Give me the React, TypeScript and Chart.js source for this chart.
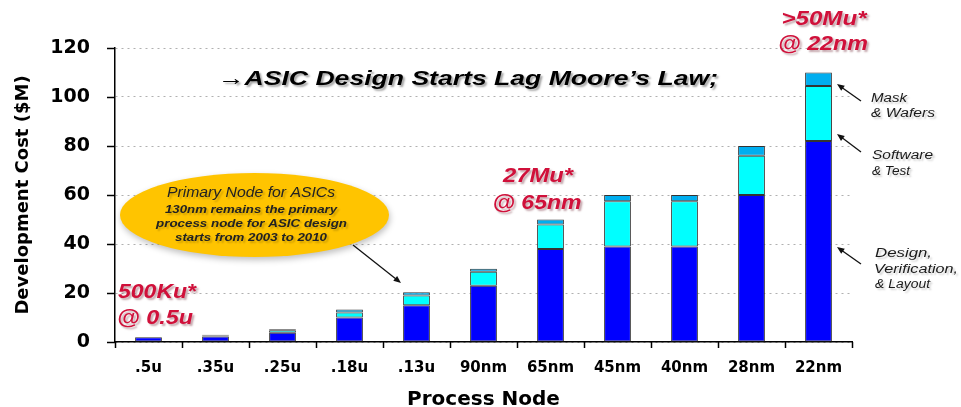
import React, { useEffect, useRef } from 'react';
import { Chart, registerables } from 'chart.js';

Chart.register(...registerables);

// ---- Data ----
const categories = ['.5u', '.35u', '.25u', '.18u', '.13u', '90nm', '65nm', '45nm', '40nm', '28nm', '22nm'];
const designCost = [1.9, 2.2, 3.8, 10, 15, 23, 38, 39, 39, 60, 82];
const softwareCost = [0, 0.5, 1.0, 2, 4, 5.7, 10, 18.5, 18.5, 16, 22.5];
const maskCost = [0, 0.3, 0.4, 1.3, 1.3, 1.2, 2, 2.5, 2.5, 4, 5.5];
const yTickValues = [0, 20, 40, 60, 80, 100, 120];

const seriesNames = ['Design, Verification, & Layout', 'Software & Test', 'Mask & Wafers'];
const headline = '\u2192ASIC Design Starts Lag Moore\u2019s Law;';
const ellipseLines = ['Primary Node for ASICs', '130nm remains the primary', 'process node for ASIC design', 'starts from 2003 to 2010'];

const SANS = '"Liberation Sans", Arial, sans-serif';
const AXIS_FONT = '"DejaVu Sans", sans-serif';
const RED = '#D0103A';

function fitText(
  ctx: CanvasRenderingContext2D,
  text: string,
  x: number,
  y: number,
  font: string,
  width: number,
  align: CanvasTextAlign,
  color: string,
  shadow?: string
) {
  ctx.save();
  ctx.font = font;
  const w = ctx.measureText(text).width;
  const sx = width / w;
  ctx.translate(x, y);
  ctx.scale(sx, 1);
  ctx.textAlign = align;
  ctx.textBaseline = 'alphabetic';
  if (shadow) {
    ctx.shadowColor = shadow;
    ctx.shadowOffsetX = 2;
    ctx.shadowOffsetY = 2;
    ctx.shadowBlur = 2;
  }
  ctx.fillStyle = color;
  ctx.fillText(text, 0, 0);
  ctx.restore();
}

function arrow(ctx: CanvasRenderingContext2D, x1: number, y1: number, x2: number, y2: number, head = 7) {
  ctx.save();
  ctx.strokeStyle = '#111';
  ctx.fillStyle = '#111';
  ctx.lineWidth = 1.3;
  const ang = Math.atan2(y2 - y1, x2 - x1);
  ctx.beginPath();
  ctx.moveTo(x1, y1);
  ctx.lineTo(x2 - Math.cos(ang) * head * 0.8, y2 - Math.sin(ang) * head * 0.8);
  ctx.stroke();
  ctx.beginPath();
  ctx.moveTo(x2, y2);
  ctx.lineTo(x2 - head * Math.cos(ang - 0.4), y2 - head * Math.sin(ang - 0.4));
  ctx.lineTo(x2 - head * Math.cos(ang + 0.4), y2 - head * Math.sin(ang + 0.4));
  ctx.closePath();
  ctx.fill();
  ctx.restore();
}

const decorPlugin = {
  id: 'decor',
  afterDraw(chart: any) {
    const ctx: CanvasRenderingContext2D = chart.ctx;
    const xs = chart.scales.x;
    const ys = chart.scales.y;
    const area = chart.chartArea;

    // tick marks
    ctx.save();
    ctx.strokeStyle = '#000';
    ctx.lineWidth = 1.5;
    ys.ticks.forEach((t: any) => {
      const py = Math.round(ys.getPixelForValue(t.value)) + 0.5;
      ctx.beginPath();
      ctx.moveTo(area.left - 8, py);
      ctx.lineTo(area.left, py);
      ctx.stroke();
    });
    for (let i = 0; i <= categories.length; i++) {
      const px = Math.round(xs.getPixelForValue(i - 0.5)) + 0.5;
      ctx.beginPath();
      ctx.moveTo(px, area.bottom);
      ctx.lineTo(px, area.bottom + 6);
      ctx.stroke();
    }
    ctx.restore();

    // headline
    fitText(ctx, headline, 218, 85, `italic bold 21px ${SANS}`, 500, 'left', '#000', 'rgba(0,0,0,0.35)');

    // red callouts
    const redFont = `italic bold 21px ${SANS}`;
    const redShadow = 'rgba(90,0,20,0.35)';
    fitText(ctx, '500Ku*', 157, 298, redFont, 78, 'center', RED, redShadow);
    fitText(ctx, '@ 0.5u', 155, 324, redFont, 76, 'center', RED, redShadow);
    fitText(ctx, '27Mu*', 538, 182, redFont, 70, 'center', RED, redShadow);
    fitText(ctx, '@ 65nm', 537, 209, redFont, 89, 'center', RED, redShadow);
    fitText(ctx, '>50Mu*', 824, 25, redFont, 85, 'center', RED, redShadow);
    fitText(ctx, '@ 22nm', 823, 50, redFont, 90, 'center', RED, redShadow);

    // ellipse
    ctx.save();
    ctx.shadowColor = 'rgba(0,0,0,0.25)';
    ctx.shadowBlur = 6;
    ctx.shadowOffsetX = 1;
    ctx.shadowOffsetY = 3;
    ctx.fillStyle = '#FFC400';
    ctx.beginPath();
    ctx.ellipse(254.5, 215, 134.5, 42, 0, 0, Math.PI * 2);
    ctx.fill();
    ctx.restore();
    const eShadow = 'rgba(0,0,0,0.2)';
    fitText(ctx, ellipseLines[0], 251, 197, `italic 15px ${SANS}`, 168, 'center', '#222', eShadow);
    fitText(ctx, ellipseLines[1], 251, 213, `italic bold 11px ${SANS}`, 172, 'center', '#222', eShadow);
    fitText(ctx, ellipseLines[2], 251.5, 227, `italic bold 11px ${SANS}`, 191, 'center', '#222', eShadow);
    fitText(ctx, ellipseLines[3], 251, 241, `italic bold 11px ${SANS}`, 152, 'center', '#222', eShadow);

    arrow(ctx, 353, 245, 401, 283, 8);

    // right-side series labels
    const lf = `italic 12px ${SANS}`;
    const ls = 'rgba(0,0,0,0.2)';
    fitText(ctx, 'Mask', 871, 102, lf, 36, 'left', '#1a1a1a', ls);
    fitText(ctx, '& Wafers', 871, 117, lf, 64, 'left', '#1a1a1a', ls);
    fitText(ctx, 'Software', 872, 159, lf, 61, 'left', '#1a1a1a', ls);
    fitText(ctx, '& Test', 872, 175, lf, 38, 'left', '#1a1a1a', ls);
    fitText(ctx, 'Design,', 875, 257, lf, 57, 'left', '#1a1a1a', ls);
    fitText(ctx, 'Verification,', 874, 273, lf, 84, 'left', '#1a1a1a', ls);
    fitText(ctx, '& Layout', 875, 288, lf, 55, 'left', '#1a1a1a', ls);

    arrow(ctx, 861, 101, 837, 84, 8);
    arrow(ctx, 861, 152, 837, 134, 8);
    arrow(ctx, 861, 264, 837, 247, 8);
  },
};

export default function App() {
  const canvasRef = useRef<HTMLCanvasElement | null>(null);

  useEffect(() => {
    const canvas = canvasRef.current;
    if (!canvas) return;
    const common = {
      borderColor: '#333333',
      borderWidth: 1,
      borderSkipped: false,
      barPercentage: 0.4,
      categoryPercentage: 1,
    };
    const chart = new Chart(canvas, {
      type: 'bar',
      data: {
        labels: categories,
        datasets: [
          { label: seriesNames[0], data: designCost, backgroundColor: '#0000FF', ...common },
          { label: seriesNames[1], data: softwareCost, backgroundColor: '#00FFFF', ...common },
          { label: seriesNames[2], data: maskCost, backgroundColor: '#00AEEF', ...common },
        ],
      },
      options: {
        animation: false,
        responsive: false,
        devicePixelRatio: 1,
        layout: { padding: { top: 48, right: 109, bottom: 0, left: 0 } },
        plugins: {
          legend: { display: false },
          tooltip: { enabled: false },
          title: { display: false },
        },
        scales: {
          x: {
            stacked: true,
            offset: true,
            grid: { display: false, drawTicks: false },
            border: { display: true, color: '#000', width: 1.5 },
            ticks: {
              color: '#000',
              padding: 17,
              maxRotation: 0,
              autoSkip: false,
              font: { family: AXIS_FONT, size: 15, weight: 'bold' },
            },
            title: {
              display: true,
              text: 'Process Node',
              color: '#000',
              font: { family: AXIS_FONT, size: 20, weight: 'bold', lineHeight: 0.6 },
              padding: { top: 0, bottom: 1 },
            },
            afterFit(scale: any) {
              scale.height = 65;
            },
          },
          y: {
            stacked: true,
            min: 0,
            max: 120,
            afterBuildTicks(scale: any) {
              scale.ticks = yTickValues.map((v) => ({ value: v }));
            },
            grid: { display: true, drawTicks: false, color: '#b0b0b0', lineWidth: 1 },
            border: { display: true, color: '#000', width: 1.5, dash: [2, 4] },
            ticks: {
              color: '#000',
              padding: 25,
              font: { family: AXIS_FONT, size: 19, weight: 'bold' },
            },
            title: {
              display: true,
              text: 'Development Cost ($M)',
              color: '#000',
              font: { family: AXIS_FONT, size: 18, weight: 'bold', lineHeight: 1.2 },
              padding: { top: 13, bottom: 0 },
            },
            afterFit(scale: any) {
              scale.width = 115;
            },
          },
        },
      } as any,
      plugins: [decorPlugin],
    });
    return () => chart.destroy();
  }, []);

  return (
    <div style={{ position: 'fixed', left: 0, top: 0, width: 961, height: 407, background: '#fff' }}>
      <canvas ref={canvasRef} width={961} height={407} style={{ display: 'block', width: 961, height: 407 }} />
    </div>
  );
}
